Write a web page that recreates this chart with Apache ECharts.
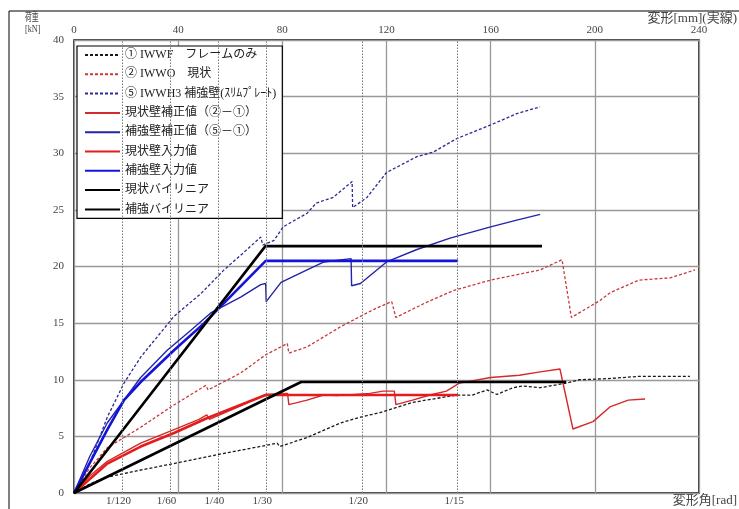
<!DOCTYPE html>
<html>
<head>
<meta charset="utf-8">
<script src="https://cdn.jsdelivr.net/npm/echarts@6/dist/echarts.min.js"></script>
<style>
html,body{margin:0;padding:0;background:#fff;}
#chart{width:739px;height:509px;}
</style>
</head>
<body>
<div id="chart"></div>
<script>
// ---- data (x: displacement [mm], y: load [kN]) ----
var xTicksMm = [0, 40, 80, 120, 160, 200, 240];
var storyHeight = 2210; // mm, for rotation-angle labels
var angleDenoms = [120, 60, 40, 30, 20, 15];

var seriesNames = [
  '① IWWF\u3000フレームのみ',
  '② IWWO\u3000現状',
  '⑤ IWWH3 補強壁(ｽﾘﾑﾌﾟﾚｰﾄ)',
  '現状壁補正値（②－①）',
  '補強壁補正値（⑤－①）',
  '現状壁入力値',
  '補強壁入力値',
  '現状バイリニア',
  '補強バイリニア'
];

var frameOnly = [[0,0],[6,0.8],[12.8,1.4],[25,2.0],[38.4,2.6],[57.6,3.5],[73.6,4.2],[78,4.4],[79,4.1],[89.5,4.9],[102.5,6.2],[110,6.7],[117.5,7.1],[130,8.0],[147,8.65],[153,8.65],[158.6,9.1],[162.4,8.7],[168.6,9.3],[172.4,9.45],[179,9.3],[189,9.7],[194,10.0],[205,10.1],[217,10.3],[228,10.3],[236.5,10.3]];
var existingWall = [[0,0],[6,2.2],[12.8,4.0],[25.6,5.8],[37.2,7.6],[50.6,9.5],[51.5,9.1],[64,10.6],[73.6,12.2],[81.9,13.2],[82.5,12.35],[89.5,12.9],[102.5,14.7],[115,16.2],[122,16.9],[123.6,15.5],[135,16.8],[146,17.9],[160,18.8],[179,19.7],[187.4,20.6],[191,15.5],[202,17.0],[206,17.7],[217,18.8],[229,19.0],[238.5,19.7]];
var reinforcedWall = [[0,0],[6.5,2.9],[12.8,6.7],[19.2,9.7],[25.6,12.0],[32,13.8],[38.4,15.6],[48.7,17.6],[57.6,19.7],[65,21.2],[71.7,22.6],[72.5,21.9],[76.8,22.3],[80.3,23.5],[89.5,24.7],[93,25.6],[99.5,26.1],[106.8,27.5],[107,25.2],[112.5,26.1],[120,28.3],[131.7,29.7],[138,30.1],[147,31.3],[160,32.5],[170,33.5],[179,34.1]];
var existingCorr = [[0,0],[6,1.5],[12.8,2.8],[25.6,4.4],[38.4,5.6],[48,6.5],[51,6.9],[52,6.5],[64,7.7],[73.6,8.7],[82,8.8],[82.5,7.8],[89.5,8.2],[95.8,8.65],[101,8.6],[113.6,8.8],[118.7,9.0],[123,9.0],[123.6,7.8],[130,8.2],[136.7,8.65],[143,9.0],[148,9.7],[160,10.2],[171,10.4],[179,10.7],[186.6,10.95],[191.6,5.65],[199.3,6.3],[205.8,7.6],[212.8,8.2],[219.3,8.3]];
var reinforcedCorr = [[0,0],[6,3.2],[12.8,6.2],[25.6,10.2],[35.8,12.6],[45,14.4],[52.5,15.9],[64,17.3],[71.7,18.4],[73.6,18.5],[73.8,16.9],[79.5,18.6],[89.5,19.7],[96,20.4],[106.4,20.7],[106.6,18.3],[110,18.5],[120,20.4],[131.7,21.5],[144.4,22.5],[160,23.5],[170,24.1],[179,24.6]];
var existingInput = [[0,0],[12.8,2.6],[25.6,4.1],[38.4,5.3],[51,6.6],[73.6,8.65],[147.5,8.65]];
var reinforcedInput = [[0,0],[12.8,5.6],[19.2,8.2],[25.6,9.8],[38.4,12.6],[50,15.0],[73.6,20.5],[147.5,20.5]];
var existingBilinear = [[0,0],[87.2,9.8],[189,9.8]];
var reinforcedBilinear = [[0,0],[73.5,21.8],[179.7,21.8]];

// ---- chart ----
var FONT = "'Liberation Serif','Noto Sans CJK JP',serif";
var chart = echarts.init(document.getElementById('chart'), null, {renderer:'canvas'});

function lineSeries(name, data, color, width, type, z) {
  return {
    name: name, type: 'line', data: data, xAxisIndex: 0, yAxisIndex: 0,
    symbol: 'none', showSymbol: false, animation: false, z: z || 2,
    lineStyle: {color: color, width: width, type: type},
    itemStyle: {color: color}
  };
}

var series = [
  lineSeries(seriesNames[0], frameOnly, '#1a1a1a', 1.3, [3,2]),
  lineSeries(seriesNames[1], existingWall, '#c83a3a', 1.3, [3,2]),
  lineSeries(seriesNames[2], reinforcedWall, '#2b2b96', 1.3, [3,2]),
  lineSeries(seriesNames[3], existingCorr, '#d42a2a', 1.4, 'solid'),
  lineSeries(seriesNames[4], reinforcedCorr, '#2424a8', 1.4, 'solid'),
  lineSeries(seriesNames[5], existingInput, '#e41c1c', 2.6, 'solid', 3),
  lineSeries(seriesNames[6], reinforcedInput, '#1414d8', 2.6, 'solid', 3),
  lineSeries(seriesNames[7], existingBilinear, '#000000', 2.6, 'solid', 4),
  lineSeries(seriesNames[8], reinforcedBilinear, '#000000', 2.6, 'solid', 4)
];
series[0].markLine = {
  silent: true, symbol: ['none','none'], animation: false,
  label: {show: false},
  lineStyle: {color: '#777', width: 1, type: [1.5,1.5]},
  data: angleDenoms.map(function(d){ return {xAxis: storyHeight / d}; })
};

var option = {
  backgroundColor: '#fff',
  animation: false,
  grid: {left: 74, right: 40, top: 40, bottom: 16, show: true, borderColor: '#000', borderWidth: 1.5, backgroundColor: 'transparent'},
  legend: {
    orient: 'vertical', left: 77, top: 46,
    data: seriesNames,
    backgroundColor: '#fff', borderColor: '#000', borderWidth: 1.2,
    padding: [3, 6, 3, 7],
    itemWidth: 35, itemHeight: 11, itemGap: 7.3,
    itemStyle: {color: 'rgba(0,0,0,0)', borderWidth: 0, opacity: 0},
    textStyle: {fontFamily: FONT, fontSize: 12, color: '#222'},
    selectedMode: false
  },
  xAxis: [{
    type: 'value', position: 'top', min: xTicksMm[0], max: xTicksMm[xTicksMm.length-1], interval: 40,
    axisLine: {show: false}, axisTick: {show: false},
    axisLabel: {margin: 4, fontFamily: FONT, fontSize: 11, color: '#444'},
    splitLine: {show: true, lineStyle: {color: '#999', width: 1.3}}
  }, {
    type: 'value', position: 'bottom', min: xTicksMm[0], max: xTicksMm[xTicksMm.length-1],
    axisLine: {show: false}, axisTick: {show: false}, splitLine: {show: false},
    axisLabel: {
      margin: 3, fontFamily: FONT, fontSize: 11, color: '#444', padding: [0, 7, 0, 0],
      customValues: angleDenoms.map(function(d){ return storyHeight / d; }),
      formatter: function(v){ return '1/' + Math.round(storyHeight / v); }
    }
  }],
  yAxis: {
    type: 'value', min: 0, max: 40, interval: 5,
    axisLine: {show: false}, axisTick: {show: false},
    axisLabel: {margin: 10, fontFamily: FONT, fontSize: 11, color: '#444'},
    splitLine: {show: true, lineStyle: {color: '#999', width: 1.3}}
  },
  graphic: [
    {type: 'line', shape: {x1: 9, y1: 11, x2: 739, y2: 11}, style: {stroke: '#000', lineWidth: 1}, silent: true},
    {type: 'line', shape: {x1: 9, y1: 11, x2: 9, y2: 509}, style: {stroke: '#000', lineWidth: 1}, silent: true},
    {type: 'text', x: 25, y: 13, scaleX: 0.62, style: {text: '荷重', font: "11px " + FONT, fill: '#444'}},
    {type: 'text', x: 25, y: 24, scaleX: 0.75, style: {text: '[kN]', font: "11px " + FONT, fill: '#444'}},
    {type: 'text', right: 2, top: 12, style: {text: '変形[mm](実線)', font: "13px " + FONT, fill: '#444'}},
    {type: 'text', right: 2, top: 494, style: {text: '変形角[rad]', font: "13px " + FONT, fill: '#444'}}
  ],
  series: series
};
chart.setOption(option);
</script>
</body>
</html>
